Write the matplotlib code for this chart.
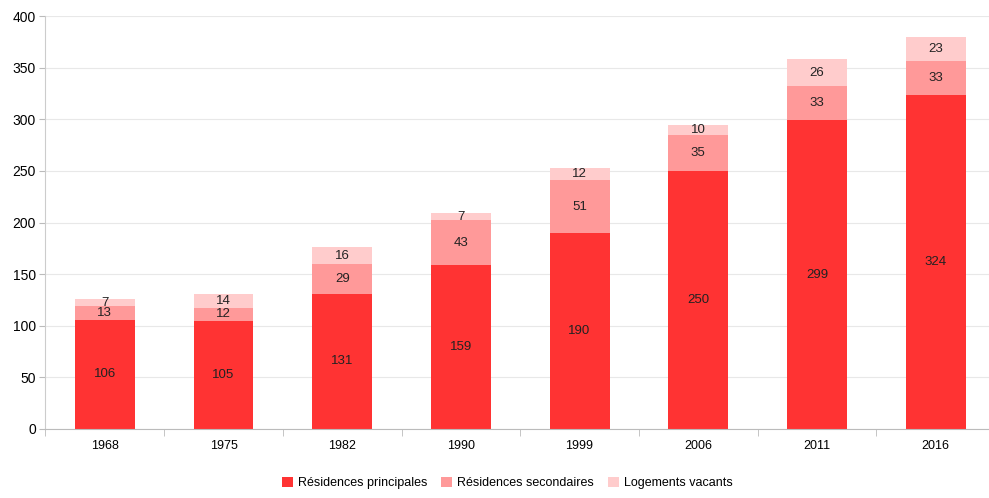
import matplotlib
matplotlib.use("Agg")
import matplotlib.pyplot as plt
import numpy as np

years = ["1968", "1975", "1982", "1990", "1999", "2006", "2011", "2016"]
principales = [106, 105, 131, 159, 190, 250, 299, 324]
secondaires = [13, 12, 29, 43, 51, 35, 33, 33]
vacants = [7, 14, 16, 7, 12, 10, 26, 23]

plt.rcParams['font.family'] = ['Liberation Sans', 'DejaVu Sans']

fig = plt.figure(figsize=(9.89, 4.98), dpi=100)
ax = fig.add_axes([0.0460, 0.1386, 0.9600, 0.829])

x = np.arange(len(years))
w = 0.505
c1, c2, c3 = "#FF3333", "#FF9999", "#FFCCCC"
p = np.array(principales)
s = np.array(secondaires)
v = np.array(vacants)
ax.bar(x, p, w, color=c1, label="Résidences principales", zorder=2)
ax.bar(x, s, w, bottom=p, color=c2, label="Résidences secondaires", zorder=2)
ax.bar(x, v, w, bottom=p + s, color=c3, label="Logements vacants", zorder=2)

for i in range(len(years)):
    ax.text(x[i], p[i] / 2, str(p[i]), ha="center", va="center", fontsize=9.5, color="#222222", zorder=3)
    ax.text(x[i], p[i] + s[i] / 2, str(s[i]), ha="center", va="center", fontsize=9.5, color="#222222", zorder=3)
    ax.text(x[i], p[i] + s[i] + v[i] / 2, str(v[i]), ha="center", va="center", fontsize=9.5, color="#222222", zorder=3)

ax.set_xlim(-0.5, len(years) - 0.5)
ax.set_ylim(0, 400)
ax.set_yticks(range(0, 401, 50))
ax.yaxis.grid(True, color="#E8E8E8", linewidth=0.8, zorder=0)
ax.set_axisbelow(True)
ax.set_xticks(x)
ax.set_xticklabels(years)
ax.set_xticks(np.arange(-0.5, len(years), 1), minor=True)
ax.tick_params(axis="x", which="major", length=0, pad=8, labelsize=9)
ax.tick_params(axis="x", which="minor", length=5, color="#BBBBBB")
ax.tick_params(axis="y", length=4, color="#BBBBBB", labelsize=10, pad=3)
for sp in ["top", "right"]:
    ax.spines[sp].set_visible(False)
ax.spines["left"].set_color("#CCCCCC")
ax.spines["bottom"].set_color("#BBBBBB")

fig.legend(loc="lower center", bbox_to_anchor=(0.513, -0.005), ncol=3, frameon=False,
           fontsize=9, handlelength=0.9, handleheight=0.9, handletextpad=0.4, columnspacing=1.1)

fig.savefig("out.png", dpi=100)
